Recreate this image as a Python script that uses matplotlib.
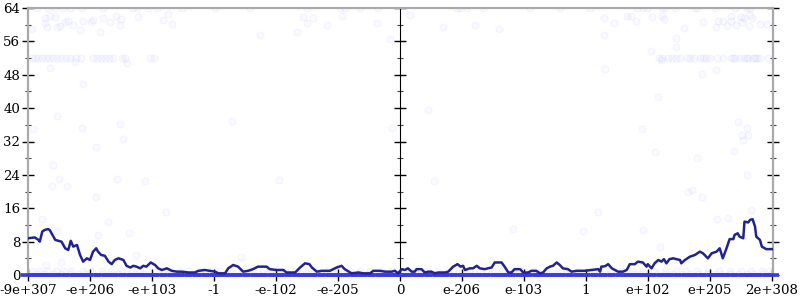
import matplotlib
matplotlib.use("Agg")
import matplotlib.pyplot as plt
from matplotlib.ticker import MultipleLocator

plt.rcParams["font.family"] = ["DejaVu Serif"]

# x positions are in tick slots: -6 .. 6 (one slot per labelled tick)
tick_pos = [-6, -5, -4, -3, -2, -1, 0, 1, 2, 3, 4, 5, 6]
tick_labels = ["-9e+307", "-e+206", "-e+103", "-1", "-e-102", "-e-205", "0",
               "e-206", "e-103", "1", "e+102", "e+205", "2e+308"]

# running average line
avg_x = [-6.0, -5.89, -5.83, -5.81, -5.77, -5.73, -5.68, -5.65, -5.62, -5.56,
         -5.51, -5.46, -5.40, -5.35, -5.31, -5.27, -5.21, -5.16, -5.11, -5.05,
         -5.00, -4.95, -4.90, -4.87, -4.82, -4.76, -4.70, -4.65, -4.60, -4.54,
         -4.46, -4.41, -4.35, -4.30, -4.25, -4.19, -4.14, -4.09, -4.02, -3.95,
         -3.90, -3.84, -3.76, -3.68, -3.60, -3.52, -3.41, -3.31, -3.25, -3.15,
         -3.06, -2.98, -2.93, -2.82, -2.77, -2.69, -2.61, -2.53, -2.45, -2.37,
         -2.29, -2.15, -2.10, -1.99, -1.88, -1.83, -1.69, -1.61, -1.53, -1.46,
         -1.42, -1.34, -1.26, -1.13, -1.02, -0.94, -0.89, -0.78, -0.67, -0.59,
         -0.48, -0.43, -0.32, -0.24, -0.13, -0.08, -0.03, 0.03, 0.08, 0.13,
         0.19, 0.24, 0.27, 0.35, 0.40, 0.46, 0.51, 0.56, 0.62, 0.73,
         0.78, 0.86, 0.93, 0.98, 1.02, 1.05, 1.13, 1.18, 1.24, 1.29,
         1.37, 1.42, 1.48, 1.53, 1.64, 1.69, 1.75, 1.80, 1.85, 1.94,
         1.99, 2.07, 2.12, 2.20, 2.26, 2.31, 2.37, 2.42, 2.47, 2.53,
         2.58, 2.63, 2.71, 2.77, 2.85, 2.93, 2.98, 3.09, 3.20, 3.23,
         3.25, 3.31, 3.36, 3.42, 3.47, 3.52, 3.60, 3.66, 3.71, 3.79,
         3.84, 3.92, 3.98, 4.00, 4.06, 4.11, 4.17, 4.22, 4.26, 4.30,
         4.35, 4.41, 4.46, 4.52, 4.54, 4.60, 4.68, 4.76, 4.84, 4.89,
         4.97, 5.03, 5.11, 5.16, 5.21, 5.27, 5.32, 5.38, 5.40, 5.45,
         5.48, 5.54, 5.56, 5.62, 5.65, 5.69, 5.73, 5.75, 5.81, 5.84,
         5.91, 6.02]
avg_y = [8.8, 9.0, 8.4, 8.0, 10.4, 10.8, 11.0, 10.8, 10.0, 8.4,
         8.2, 8.0, 6.4, 6.0, 8.2, 6.8, 7.2, 4.8, 3.2, 4.0,
         3.6, 5.6, 6.4, 5.6, 4.8, 4.6, 3.2, 2.6, 3.6, 4.0,
         3.6, 2.2, 1.8, 2.2, 2.0, 1.6, 2.2, 2.0, 3.0, 2.4,
         1.6, 1.2, 1.6, 1.0, 0.8, 0.8, 0.6, 0.6, 1.0, 1.2,
         1.0, 0.8, 0.4, 0.4, 1.6, 2.4, 2.0, 0.8, 1.0, 1.4,
         2.0, 2.0, 1.4, 1.2, 1.2, 0.6, 0.6, 1.8, 2.8, 2.6,
         1.8, 0.8, 1.0, 1.0, 1.8, 2.2, 1.4, 0.4, 0.6, 0.4,
         0.4, 1.0, 1.0, 0.8, 0.8, 1.0, 0.4, 1.4, 1.2, 1.6,
         0.8, 0.8, 1.4, 1.4, 0.6, 0.8, 0.8, 0.4, 0.6, 0.6,
         0.8, 2.0, 2.6, 2.0, 2.2, 1.2, 1.6, 1.6, 2.2, 1.6,
         1.4, 1.6, 1.8, 3.0, 3.0, 2.0, 0.6, 0.6, 1.4, 1.4,
         0.6, 0.6, 1.0, 1.0, 0.4, 0.6, 1.6, 2.0, 2.2, 3.0,
         2.4, 1.6, 1.4, 0.8, 1.0, 1.0, 1.0, 1.2, 1.4, 0.8,
         2.0, 2.1, 2.6, 1.6, 1.2, 0.8, 0.8, 1.2, 2.6, 2.6,
         3.2, 3.0, 2.0, 2.6, 1.6, 2.8, 3.6, 3.2, 3.8, 2.8,
         3.8, 4.0, 3.8, 3.6, 2.8, 3.6, 4.4, 4.8, 5.6, 5.2,
         4.0, 5.2, 5.6, 6.4, 4.0, 6.4, 8.6, 8.6, 9.6, 10.0,
         9.2, 8.8, 12.8, 12.6, 13.2, 13.4, 11.6, 9.2, 8.4, 6.8,
         6.2, 6.2]

# individual samples
zero_x = [-5.98, -5.86, -5.72, -5.6, -5.47, -5.33, -5.2, -5.08, -4.95, -4.81,
          -4.68, -4.55, -4.41, -4.28, -4.15, -4.01, -3.88, -3.74, -3.61, -3.48,
          -3.34, -3.21, -3.07, -2.94, -2.81, -2.67, -2.54, -2.4, -2.27, -2.14,
          -2.0, -1.87, -1.73, -1.6, -1.47, -1.33, -1.2, -1.06, -0.93, -0.8,
          -0.66, -0.53, -0.39, -0.26, -0.13, 0.0, 0.13, 0.26, 0.39, 0.53,
          0.66, 0.8, 0.93, 1.06, 1.2, 1.33, 1.47, 1.6, 1.73, 1.87,
          2.0, 2.14, 2.27, 2.4, 2.54, 2.67, 2.81, 2.94, 3.07, 3.21,
          3.34, 3.48, 3.61, 3.74, 3.88, 4.01, 4.15, 4.28, 4.41, 4.55,
          4.68, 4.81, 4.95, 5.08, 5.2, 5.33, 5.47, 5.6, 5.72, 5.86, 5.98]
one_x = [-5.95, -5.83, -5.7, -5.55, -5.43, -5.3, -5.12, -4.98, -4.8, -4.66,
         -4.5, -4.33, -4.2, -4.05, -3.9, -3.72, -3.55, -3.4, -3.22, -3.05,
         -2.9, -2.72, -2.55, -2.38, -2.2, -2.03, -1.85, -1.7, -1.5, -1.35,
         -1.18, -1.0, -0.82, -0.65, -0.48, -0.3, -0.12, 0.08, 0.25, 0.43,
         0.6, 0.78, 0.95, 1.12, 1.3, 1.48, 1.65, 1.83, 2.0, 2.18,
         2.35, 2.53, 2.7, 2.88, 3.05, 3.22, 3.4, 3.58, 3.75, 3.93,
         4.1, 4.28, 4.45, 4.62, 4.8, 4.97, 5.15, 5.32, 5.5, 5.67, 5.85, 5.97]
band52_x = [-5.94, -5.89, -5.84, -5.77, -5.71, -5.66, -5.60, -5.53, -5.47, -5.39,
            -5.32, -5.23, -5.15, -4.95, -4.89, -4.82, -4.76, -4.69, -4.63, -4.48,
            -4.44, -4.03, -3.97,
            4.18, 4.23, 4.32, 4.39, 4.45, 4.52, 4.63, 4.68, 4.74, 4.84,
            4.89, 4.94, 5.00, 5.11, 5.21, 5.35, 5.37, 5.40, 5.48, 5.55,
            5.60, 5.61, 5.69, 5.73, 5.76, 5.81, 5.94]
top64_x = [-5.85, -5.68, -5.56, -5.44, -5.32, -5.13, -4.79, -4.31, -4.24, -4.06,
           -3.92, -3.52, -2.98, -2.42, -1.50, -0.97, -0.89, -0.65, -0.35, 0.92,
           0.97, 1.08, 1.34, 2.10, 2.58, 3.06, 3.82, 3.92, 3.98, 4.23,
           4.27, 4.44, 4.76, 4.79, 5.08, 5.40, 5.60, 5.65]
other_x = [-5.94, -5.73, -5.65, -5.56, -5.73, -5.69, -5.53, -5.48, -5.40, -5.35,
           -5.27, -5.16, -5.11, -4.98, -4.95, -4.84, -4.79, -4.68, -4.58, -4.52,
           -4.50, -4.23, -3.82, -3.74, -3.68,
           -4.40, -5.65, -5.24, -5.11, -5.53, -5.92, -5.13, -4.52, -4.47, -4.90,
           -5.60, -5.61, -5.50, -5.37, -5.77, -5.53, -5.47, -5.71, -4.90, -4.56,
           -4.11, -4.71, -4.87, -4.37, -3.77, -4.26,
           -1.95, -2.56, -2.26, -1.66, -2.71, -0.16, -1.56, -1.50, -1.40, -1.18,
           -0.94, -0.37, 0.16, 0.69, 1.21, 1.60, 0.45, -0.13, 0.55, 1.82,
           2.95, 3.19,
           4.11, 4.79, 5.39, 5.60, 4.65, 4.71, 4.87, 5.11, 5.29, 5.66,
           3.92, 4.19,
           3.29, 3.45, 3.66, 3.73, 3.81, 4.06, 4.23, 4.26, 4.58, 4.89,
           5.10, 5.13, 5.21, 5.27, 5.34, 5.35, 5.42, 5.50, 5.52, 5.56,
           5.63, 5.65, 5.68, 5.81, 5.92, 3.29, 4.45, 4.45, 4.05, 3.31,
           4.21, 4.87, 5.10, 4.16, 3.90, 5.45, 5.60, 5.52, 5.61, 5.53]
other_y = [59.0, 61.6, 62.0, 61.9, 60.4, 59.5, 59.5, 59.7, 60.7, 61.0,
           60.0, 58.8, 61.0, 60.7, 61.2, 58.3, 61.6, 60.7, 62.1, 60.0,
           61.4, 61.9, 61.2, 62.6, 60.2,
           50.8, 49.6, 51.1, 45.8, 38.1, 35.0, 35.2, 36.2, 32.6, 30.7,
           26.4, 21.3, 23.0, 21.3, 13.4, 10.6, 3.1, 2.4, 18.7, 23.0,
           22.5, 12.7, 9.6, 10.1, 15.1, 4.8,
           22.8, 4.3, 57.6, 58.3, 36.9, 56.6, 61.9, 60.4, 61.6, 60.0,
           62.1, 60.4, 62.4, 59.5, 60.0, 59.0, 39.6, 35.2, 22.5, 11.0,
           10.6, 15.1,
           29.5, 28.0, 29.7, 24.0, 19.9, 20.4, 18.7, 13.4, 13.7, 15.6,
           10.8, 6.7,
           61.6, 60.4, 62.1, 62.1, 60.9, 61.9, 62.1, 61.4, 59.2, 60.7,
           59.5, 60.9, 60.9, 59.7, 60.9, 62.1, 60.0, 61.9, 60.7, 61.6,
           59.7, 62.4, 61.6, 60.2, 60.2, 57.6, 56.8, 54.7, 53.7, 49.4,
           51.6, 48.2, 49.2, 42.7, 35.0, 36.7, 35.2, 33.6, 33.6, 32.4]

fig = plt.figure(figsize=(8, 3), dpi=100)
ax = fig.add_axes([28 / 800, 25 / 300, 745 / 800, 267 / 300])

dot = dict(marker="o", linestyle="none", markersize=5.0,
           markerfacecolor=(0.6, 0.6, 1.0, 0.05),
           markeredgecolor=(0.5, 0.5, 1.0, 0.07), markeredgewidth=0.8)
ax.plot(other_x, other_y, **dot)
ax.plot(band52_x, [52] * len(band52_x), **dot)
ax.plot(top64_x, [64] * len(top64_x), **dot)
ax.plot(one_x, [1] * len(one_x), **dot)
ax.plot(zero_x, [0.3] * len(zero_x), **dot)
ax.plot(zero_x, [0] * len(zero_x), marker="_", linestyle="none", markersize=12,
        markeredgewidth=2.6, color="#3a3ae0", clip_on=False, zorder=3)

ax.plot(avg_x, avg_y, color="#23238e", linewidth=1.8, zorder=4)

ax.set_xlim(-6.0, 6.02)
ax.set_ylim(0, 64)

grey = "#aaaaaa"
for side in ("left", "top", "right"):
    ax.spines[side].set_color(grey)
    ax.spines[side].set_linewidth(1.6)
ax.spines["bottom"].set_visible(False)

ax.set_xticks(tick_pos)
ax.set_xticklabels(tick_labels)
ax.yaxis.set_major_locator(MultipleLocator(8))
ax.yaxis.set_minor_locator(MultipleLocator(4))
ax.tick_params(axis="x", direction="inout", length=9, width=1, color="black",
               labelsize=9.6, pad=2)
ax.tick_params(axis="y", which="major", direction="inout", length=9, width=1,
               color="black", labelsize=9.6, pad=1, right=True)
ax.tick_params(axis="y", which="minor", direction="inout", length=5, width=0.8,
               color="#444444", right=True)

# middle axis at x = 0
mid = ax.secondary_yaxis(6.0 / 12.02)
mid.spines["right"].set_color(grey)
mid.spines["right"].set_linewidth(1.6)
mid.yaxis.set_major_locator(MultipleLocator(8))
mid.yaxis.set_minor_locator(MultipleLocator(4))
mid.tick_params(which="major", direction="inout", length=9, width=1, color="black",
                labelright=False, labelleft=False)
mid.tick_params(which="minor", direction="inout", length=5, width=0.8,
                color="#444444")

fig.savefig("out.png", dpi=100)
